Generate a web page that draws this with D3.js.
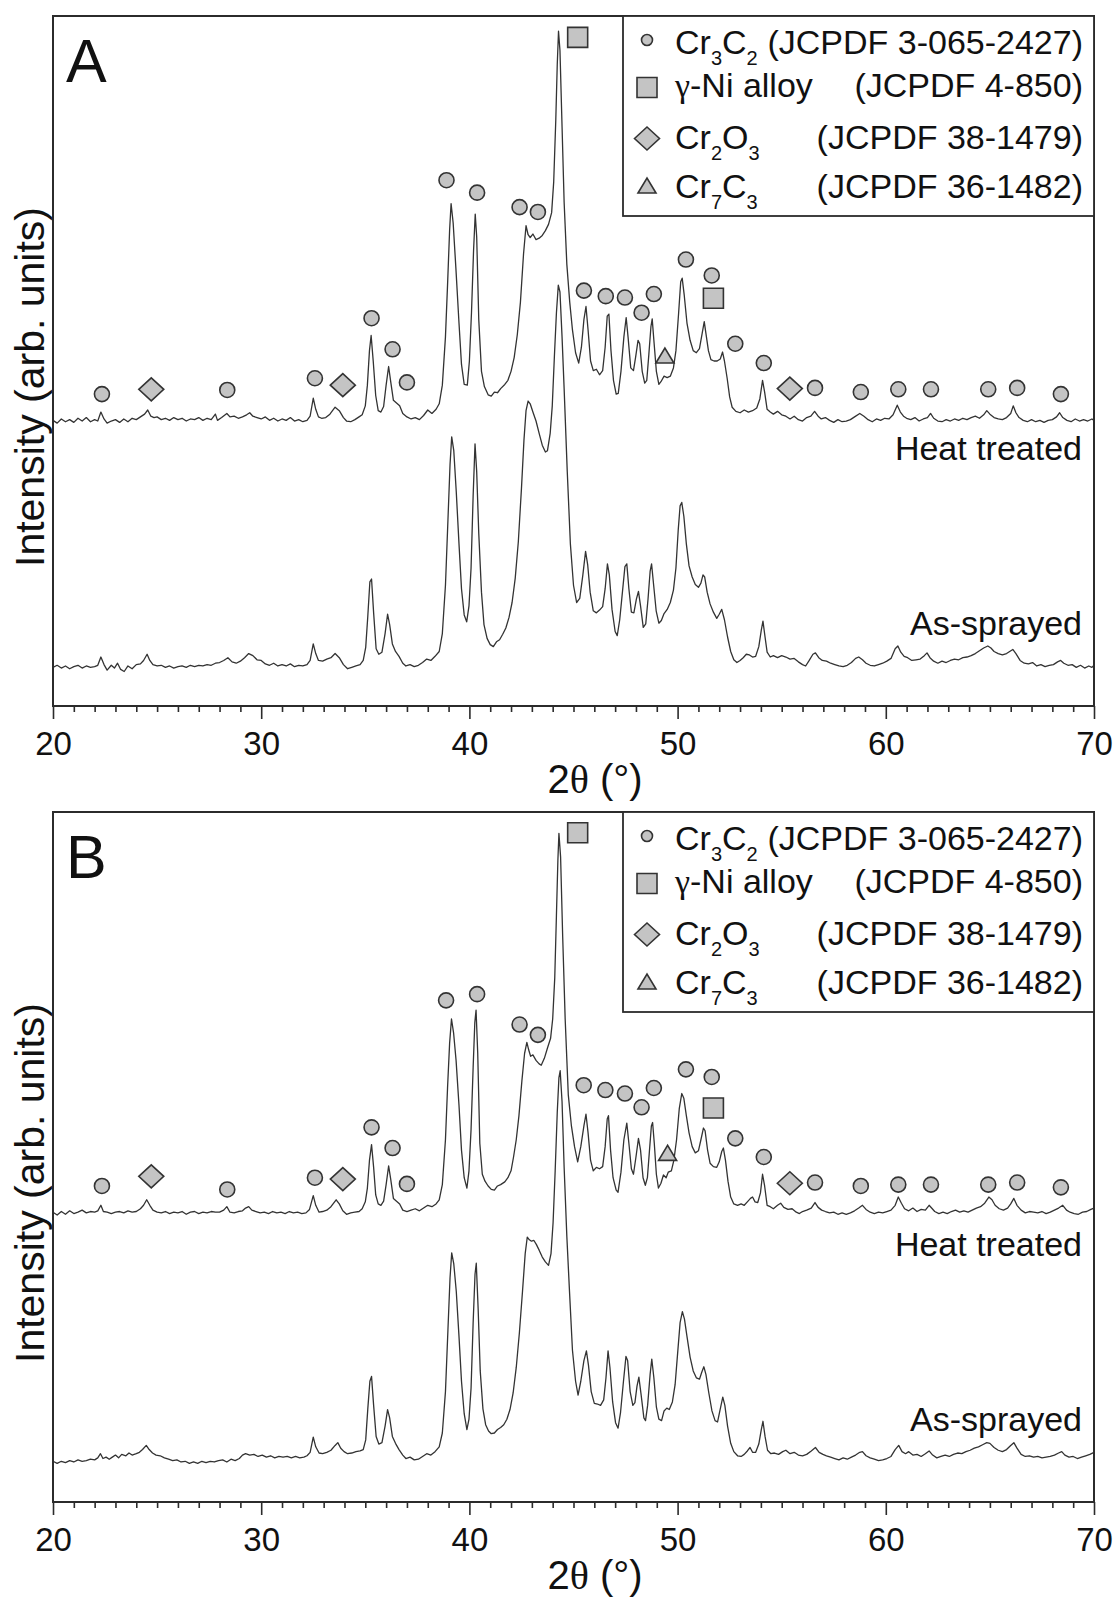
<!DOCTYPE html>
<html>
<head>
<meta charset="utf-8">
<script src="https://cdn.jsdelivr.net/npm/d3@7"></script>
<style>
  body { margin: 0; background: #fff; }
  text { font-family: "Liberation Sans", Arial, sans-serif; fill: #111; }
</style>
</head>
<body>
<svg id="chart"></svg>
<script>
// ---------- data ----------
const majorTicks = [20, 30, 40, 50, 60, 70];
const phaseNames = ["Cr3C2", "γ-Ni alloy", "Cr2O3", "Cr7C3"];
const phaseRefs = ["(JCPDF 3-065-2427)", "(JCPDF 4-850)", "(JCPDF 38-1479)", "(JCPDF 36-1482)"];
const phaseShapes = ["circle", "square", "diamond", "triangle"];
const traceLabels = ["Heat treated", "As-sprayed"];
const panelLabels = ["A", "B"];

// [2theta, intensity], intensity in % of the frame height
const heatTreatedA = [
  [20.0,41.4],[20.2,41.0],[20.4,41.6],[20.6,41.2],[20.8,41.5],[21.0,41.1],[21.2,41.7],[21.4,41.3],[21.6,41.8],[21.8,41.2],
  [22.0,41.5],[22.15,41.3],[22.3,42.6],[22.45,41.6],[22.6,41.0],[22.8,41.3],[23.0,41.5],[23.2,41.1],[23.4,41.6],[23.6,41.2],
  [23.8,41.7],[24.0,41.5],[24.2,41.9],[24.4,42.3],[24.55,42.9],[24.7,42.0],[24.85,41.8],[25.0,41.9],[25.2,41.5],[25.4,41.7],
  [25.6,41.4],[25.8,41.8],[26.0,41.5],[26.2,41.7],[26.4,41.3],[26.6,41.6],[26.8,41.5],[27.0,41.8],[27.2,41.4],[27.4,41.7],
  [27.6,41.5],[27.8,42.3],[27.9,41.4],[28.1,41.8],[28.35,42.4],[28.5,41.9],[28.7,42.0],[28.9,41.7],[29.1,41.9],[29.3,42.2],
  [29.45,42.5],[29.6,42.0],[29.8,41.8],[30.0,41.6],[30.2,41.9],[30.4,41.4],[30.6,41.7],[30.8,41.3],[31.0,41.6],[31.2,41.4],
  [31.4,41.8],[31.6,41.3],[31.8,41.5],[32.0,41.2],[32.2,41.4],[32.35,42.0],[32.5,44.6],[32.62,43.0],[32.75,41.9],[32.9,41.7],
  [33.1,41.8],[33.3,42.3],[33.55,43.3],[33.75,42.8],[33.95,41.8],[34.1,41.3],[34.3,41.2],[34.5,41.5],[34.7,41.9],[34.85,42.2],
  [35.0,43.5],[35.1,46.5],[35.2,51.5],[35.28,53.7],[35.38,50.0],[35.5,45.0],[35.62,42.8],[35.75,42.6],[35.88,43.4],[36.0,46.5],
  [36.12,49.2],[36.22,47.0],[36.35,44.3],[36.5,43.9],[36.65,43.5],[36.8,42.4],[37.0,41.9],[37.2,41.6],[37.4,41.8],[37.6,41.5],
  [37.8,42.1],[38.0,42.9],[38.2,42.4],[38.4,43.0],[38.55,43.8],[38.7,46.5],[38.85,53.5],[38.95,61.0],[39.05,69.0],[39.12,72.8],
  [39.22,70.0],[39.35,63.5],[39.5,55.5],[39.62,49.5],[39.75,46.6],[39.9,46.5],[40.0,50.0],[40.1,57.0],[40.2,66.0],[40.28,71.3],
  [40.35,68.0],[40.45,56.0],[40.58,48.5],[40.72,46.3],[40.9,45.1],[41.05,44.9],[41.2,45.5],[41.35,45.4],[41.5,46.0],[41.7,46.6],
  [41.85,47.2],[42.0,48.5],[42.15,50.5],[42.3,53.8],[42.45,58.5],[42.6,65.5],[42.72,69.6],[42.82,68.3],[42.92,67.9],[43.05,68.4],
  [43.2,67.6],[43.35,67.8],[43.5,68.2],[43.65,68.9],[43.8,69.8],[43.95,71.5],[44.05,76.0],[44.15,85.0],[44.22,93.0],[44.28,97.8],
  [44.35,95.0],[44.45,84.0],[44.55,73.0],[44.68,64.0],[44.82,58.5],[44.95,54.5],[45.1,51.2],[45.25,49.7],[45.38,52.0],[45.5,56.0],
  [45.6,57.9],[45.7,54.5],[45.82,50.0],[45.95,48.6],[46.1,48.8],[46.25,48.0],[46.4,48.6],[46.52,52.0],[46.62,56.5],[46.7,56.8],
  [46.8,51.5],[46.92,47.2],[47.05,45.2],[47.15,45.3],[47.28,48.5],[47.42,53.5],[47.53,56.3],[47.62,53.5],[47.75,49.0],[47.88,48.6],
  [47.98,50.5],[48.1,53.0],[48.18,52.5],[48.3,48.5],[48.42,46.8],[48.52,47.2],[48.62,51.0],[48.72,55.0],[48.78,56.1],[48.86,53.0],
  [48.98,48.5],[49.1,46.6],[49.2,47.0],[49.35,47.8],[49.5,47.6],[49.65,47.8],[49.8,49.0],[49.92,51.5],[50.05,57.0],[50.15,61.5],
  [50.22,62.0],[50.32,59.5],[50.45,55.5],[50.6,53.0],[50.75,51.5],[50.9,51.2],[51.05,51.8],[51.18,54.0],[51.28,55.7],[51.36,54.0],
  [51.48,51.5],[51.6,50.2],[51.75,50.0],[51.9,50.0],[52.05,50.3],[52.16,51.3],[52.25,50.0],[52.38,47.5],[52.5,44.8],[52.62,43.3],
  [52.8,42.7],[53.0,42.5],[53.2,42.9],[53.4,42.6],[53.6,42.8],[53.8,43.2],[53.95,44.5],[54.08,47.2],[54.18,45.5],[54.3,43.0],
  [54.45,42.6],[54.6,42.3],[54.8,42.7],[55.0,42.2],[55.2,42.0],[55.4,41.6],[55.6,42.0],[55.8,41.5],[56.0,41.3],[56.2,41.8],
  [56.4,42.0],[56.58,42.7],[56.75,42.0],[56.9,41.6],[57.1,41.8],[57.3,41.4],[57.5,41.1],[57.7,41.5],[57.9,41.2],[58.1,41.3],
  [58.3,41.5],[58.5,41.9],[58.75,42.4],[58.95,42.0],[59.15,41.5],[59.35,41.2],[59.55,41.6],[59.75,41.4],[59.95,41.7],[60.15,41.6],
  [60.35,42.2],[60.55,43.6],[60.7,42.6],[60.85,42.0],[61.0,41.7],[61.2,41.5],[61.4,41.8],[61.6,41.3],[61.8,41.6],[62.0,41.8],
  [62.15,42.4],[62.3,41.7],[62.5,41.3],[62.7,41.2],[62.9,41.5],[63.1,41.3],[63.3,41.6],[63.5,41.4],[63.7,41.7],[63.9,41.5],
  [64.1,41.8],[64.3,42.0],[64.5,41.7],[64.7,42.2],[64.85,42.8],[65.0,42.3],[65.2,41.8],[65.4,41.6],[65.6,41.5],[65.8,41.8],
  [66.0,42.4],[66.12,43.5],[66.25,42.5],[66.4,41.8],[66.6,41.4],[66.8,41.2],[67.0,41.5],[67.2,41.2],[67.4,41.4],[67.6,41.1],
  [67.8,41.4],[68.0,41.5],[68.2,41.9],[68.35,42.5],[68.5,41.8],[68.7,41.4],[68.9,41.2],[69.1,41.6],[69.3,41.3],[69.5,41.5],
  [69.7,41.3],[69.9,41.6],[70.0,41.4]
];

const asSprayedA = [
  [20.0,5.6],[20.2,5.9],[20.4,5.5],[20.6,5.8],[20.8,5.4],[21.0,5.7],[21.2,5.9],[21.4,5.5],[21.6,5.8],[21.8,5.6],
  [22.0,5.7],[22.15,5.9],[22.3,7.1],[22.45,6.0],[22.6,5.2],[22.8,5.9],[22.95,5.5],[23.1,6.2],[23.25,5.3],[23.42,5.0],
  [23.6,5.8],[23.8,5.4],[24.0,6.0],[24.2,6.1],[24.35,6.6],[24.52,7.5],[24.65,6.6],[24.8,6.0],[25.0,5.8],[25.2,5.9],
  [25.4,5.6],[25.6,5.8],[25.8,5.5],[26.0,5.7],[26.2,5.8],[26.4,5.6],[26.6,5.9],[26.8,5.7],[27.0,5.9],[27.2,5.8],
  [27.4,6.0],[27.6,5.9],[27.8,6.2],[28.0,6.3],[28.2,6.6],[28.4,7.0],[28.6,6.4],[28.8,6.2],[29.0,6.5],[29.2,7.0],
  [29.4,7.6],[29.6,7.3],[29.8,6.7],[30.0,6.6],[30.2,6.1],[30.4,5.9],[30.6,6.2],[30.8,5.8],[31.0,6.0],[31.2,5.8],
  [31.4,6.1],[31.6,5.7],[31.8,5.9],[32.0,5.8],[32.2,6.0],[32.35,6.6],[32.5,9.0],[32.62,7.6],[32.75,6.6],[32.95,6.5],
  [33.15,6.8],[33.35,7.0],[33.55,7.6],[33.75,7.0],[33.95,6.0],[34.15,5.4],[34.35,5.6],[34.55,5.8],[34.75,6.0],[34.9,6.6],
  [35.02,8.5],[35.12,13.0],[35.22,18.0],[35.3,18.4],[35.4,13.5],[35.52,8.3],[35.65,7.5],[35.8,7.8],[35.95,10.5],[36.07,13.3],
  [36.17,11.8],[36.3,9.0],[36.45,7.9],[36.62,7.2],[36.8,6.2],[36.95,5.8],[37.15,6.0],[37.35,5.7],[37.55,5.9],[37.75,6.3],
  [37.95,6.8],[38.15,6.6],[38.35,7.2],[38.55,7.9],[38.7,10.5],[38.85,17.5],[38.97,27.0],[39.07,35.0],[39.15,39.0],[39.25,37.0],
  [39.37,31.0],[39.5,23.5],[39.62,17.0],[39.75,13.2],[39.87,12.2],[39.98,14.5],[40.08,20.0],[40.18,30.5],[40.27,38.0],[40.35,34.0],
  [40.45,25.0],[40.58,16.5],[40.7,11.8],[40.85,9.8],[41.0,8.9],[41.15,8.6],[41.3,9.3],[41.45,9.6],[41.6,10.4],[41.75,11.3],
  [41.9,12.8],[42.05,15.0],[42.2,18.5],[42.35,23.8],[42.5,31.5],[42.62,38.5],[42.72,42.8],[42.82,44.2],[42.92,43.8],[43.05,42.6],
  [43.2,41.3],[43.35,39.5],[43.5,37.8],[43.65,36.8],[43.75,37.0],[43.88,39.5],[43.98,43.5],[44.08,50.5],[44.18,57.0],[44.27,61.0],
  [44.35,60.0],[44.45,53.5],[44.55,46.0],[44.7,34.0],[44.85,23.5],[45.0,17.5],[45.15,15.0],[45.3,15.6],[45.45,19.0],[45.58,22.4],
  [45.68,20.5],[45.8,16.5],[45.95,13.8],[46.1,13.5],[46.25,13.9],[46.4,14.4],[46.52,17.0],[46.63,20.6],[46.72,19.0],[46.85,14.0],
  [47.0,10.8],[47.1,10.2],[47.22,12.5],[47.35,16.5],[47.47,20.2],[47.56,20.6],[47.66,17.0],[47.78,13.6],[47.9,13.5],[48.02,15.5],
  [48.12,16.6],[48.22,14.5],[48.35,11.4],[48.47,11.9],[48.58,15.5],[48.68,19.5],[48.75,20.6],[48.85,17.5],[48.97,13.8],[49.1,12.0],
  [49.22,12.4],[49.35,13.4],[49.5,14.0],[49.65,15.0],[49.8,16.8],[49.92,20.0],[50.03,25.5],[50.12,29.0],[50.2,29.5],[50.3,27.5],
  [50.42,23.5],[50.55,20.3],[50.7,18.7],[50.85,17.6],[51.0,17.2],[51.12,17.8],[51.22,19.0],[51.3,18.7],[51.42,16.5],[51.56,14.8],
  [51.72,13.6],[51.88,12.7],[52.0,13.3],[52.12,14.0],[52.25,12.5],[52.4,10.0],[52.55,7.9],[52.7,6.7],[52.85,6.3],[53.0,6.6],
  [53.15,7.0],[53.3,7.5],[53.45,7.4],[53.6,7.1],[53.75,7.2],[53.9,8.6],[54.02,11.0],[54.1,12.3],[54.2,10.0],[54.3,7.8],
  [54.45,7.1],[54.6,7.3],[54.8,7.0],[55.0,7.3],[55.2,7.1],[55.4,6.8],[55.6,6.9],[55.8,6.4],[56.0,6.0],[56.15,5.8],
  [56.3,6.5],[56.5,7.5],[56.62,7.7],[56.78,7.0],[56.95,6.6],[57.15,6.5],[57.35,6.2],[57.55,6.0],[57.75,5.8],[57.95,5.7],
  [58.15,5.9],[58.35,6.3],[58.55,6.9],[58.7,7.1],[58.88,6.7],[59.05,6.2],[59.25,5.9],[59.45,5.8],[59.65,6.0],[59.85,6.2],
  [60.05,6.5],[60.25,6.9],[60.45,8.3],[60.58,8.7],[60.72,7.8],[60.88,7.2],[61.05,7.0],[61.25,6.6],[61.45,6.7],[61.65,6.8],
  [61.85,7.3],[61.98,7.7],[62.12,7.0],[62.3,6.5],[62.5,6.2],[62.7,6.5],[62.9,6.3],[63.1,6.6],[63.3,6.8],[63.5,6.7],
  [63.7,7.0],[63.9,7.1],[64.1,7.3],[64.3,7.6],[64.5,8.0],[64.7,8.4],[64.9,8.7],[65.05,8.4],[65.2,7.9],[65.4,7.6],
  [65.6,7.4],[65.8,7.6],[65.95,7.9],[66.1,8.2],[66.25,7.6],[66.45,6.6],[66.65,6.2],[66.85,6.1],[67.05,6.3],[67.25,5.8],
  [67.45,6.0],[67.65,5.7],[67.85,5.9],[68.05,6.0],[68.25,6.4],[68.4,6.6],[68.55,6.2],[68.75,5.9],[68.95,6.0],[69.15,5.6],
  [69.35,5.9],[69.55,5.5],[69.75,5.8],[69.9,5.6],[70.0,5.9]
];

const heatTreatedB = [
  [20.0,42.0],[20.2,41.6],[20.4,42.1],[20.6,41.7],[20.8,42.2],[21.0,41.8],[21.2,42.0],[21.4,42.3],[21.6,41.9],[21.8,42.1],
  [22.0,42.0],[22.15,42.2],[22.3,43.0],[22.42,42.1],[22.6,42.0],[22.8,41.8],[23.0,42.0],[23.2,42.1],[23.4,41.9],[23.6,42.2],
  [23.8,42.0],[24.0,42.1],[24.2,42.5],[24.35,43.0],[24.5,43.8],[24.65,43.0],[24.8,42.3],[25.0,42.0],[25.2,41.9],[25.4,42.1],
  [25.6,41.8],[25.8,42.0],[26.0,41.9],[26.2,42.1],[26.4,41.7],[26.6,42.0],[26.8,42.1],[27.0,41.8],[27.2,42.0],[27.4,41.9],
  [27.6,42.1],[27.8,42.0],[28.0,42.0],[28.2,42.3],[28.35,42.8],[28.5,42.0],[28.7,41.9],[28.9,42.1],[29.1,42.2],[29.25,42.6],
  [29.4,42.8],[29.55,42.3],[29.75,42.1],[29.95,41.9],[30.15,42.0],[30.35,41.8],[30.55,42.1],[30.75,41.9],[30.95,42.0],[31.15,41.8],
  [31.35,42.1],[31.55,41.9],[31.75,42.0],[31.95,41.8],[32.15,41.9],[32.32,42.4],[32.5,44.4],[32.62,43.0],[32.78,42.0],[32.95,42.1],
  [33.15,42.3],[33.35,42.8],[33.6,43.8],[33.75,43.2],[33.92,42.2],[34.1,41.7],[34.3,41.9],[34.5,42.0],[34.7,42.1],[34.85,42.5],
  [35.0,43.5],[35.1,45.5],[35.2,49.5],[35.3,51.8],[35.4,48.5],[35.5,44.5],[35.62,43.2],[35.75,43.0],[35.88,43.6],[36.0,46.0],
  [36.12,48.7],[36.22,46.8],[36.35,44.0],[36.5,43.6],[36.65,43.2],[36.8,42.3],[37.0,42.1],[37.2,42.3],[37.4,42.5],[37.6,42.2],
  [37.8,42.6],[38.0,43.0],[38.2,42.8],[38.4,43.2],[38.55,43.8],[38.7,46.0],[38.85,52.5],[38.95,60.0],[39.05,66.5],[39.14,70.0],
  [39.24,68.0],[39.36,64.0],[39.5,57.5],[39.62,51.0],[39.75,47.0],[39.88,45.5],[39.98,48.0],[40.08,54.0],[40.18,63.0],[40.26,69.5],
  [40.32,71.3],[40.4,65.0],[40.5,52.0],[40.62,47.5],[40.75,46.5],[40.9,45.8],[41.05,45.3],[41.2,45.2],[41.35,45.8],[41.5,46.0],
  [41.7,46.4],[41.85,47.0],[42.0,48.0],[42.12,50.0],[42.25,52.5],[42.38,56.0],[42.52,61.0],[42.65,65.0],[42.76,66.6],[42.85,65.5],
  [42.94,64.6],[43.05,64.8],[43.2,64.0],[43.35,63.5],[43.45,63.3],[43.6,64.3],[43.75,65.8],[43.9,67.2],[44.0,70.0],[44.1,76.0],
  [44.18,85.0],[44.25,93.0],[44.3,96.9],[44.38,93.5],[44.48,82.0],[44.6,70.0],[44.75,59.0],[44.9,54.5],[45.05,51.5],[45.2,49.3],
  [45.35,51.5],[45.5,54.5],[45.6,56.2],[45.7,53.5],[45.82,49.5],[45.95,48.0],[46.1,48.5],[46.25,48.3],[46.4,48.6],[46.52,51.5],
  [46.62,55.5],[46.68,56.0],[46.78,51.0],[46.9,47.0],[47.05,45.2],[47.14,44.9],[47.28,47.8],[47.42,52.5],[47.56,54.9],[47.66,52.0],
  [47.78,48.3],[47.88,47.5],[48.0,50.0],[48.12,52.7],[48.22,51.0],[48.34,47.0],[48.45,45.9],[48.55,47.0],[48.65,51.0],[48.74,54.5],
  [48.8,55.0],[48.88,52.0],[48.98,47.5],[49.08,45.5],[49.2,46.2],[49.32,47.4],[49.45,47.0],[49.55,47.8],[49.7,48.0],[49.82,49.5],
  [49.95,52.5],[50.08,57.0],[50.2,59.2],[50.3,58.5],[50.42,56.0],[50.55,53.5],[50.7,51.5],[50.85,50.6],[51.0,50.9],[51.12,52.5],
  [51.24,54.2],[51.32,53.8],[51.44,51.0],[51.56,49.1],[51.72,48.6],[51.88,48.5],[52.0,49.3],[52.12,50.8],[52.2,51.3],[52.3,49.5],
  [52.42,46.5],[52.55,44.2],[52.7,43.2],[52.88,43.0],[53.05,43.2],[53.2,43.0],[53.35,43.5],[53.5,44.0],[53.6,44.2],[53.72,43.5],
  [53.85,43.4],[53.98,44.8],[54.08,47.5],[54.18,45.8],[54.3,43.0],[54.45,42.8],[54.6,42.5],[54.8,43.0],[54.95,43.3],[55.1,42.7],
  [55.3,42.4],[55.5,42.5],[55.7,42.0],[55.85,41.8],[56.0,42.1],[56.2,42.3],[56.42,42.6],[56.6,43.4],[56.75,42.7],[56.92,42.3],
  [57.1,42.1],[57.3,41.9],[57.5,42.0],[57.7,41.7],[57.9,41.9],[58.1,41.7],[58.3,41.9],[58.5,42.2],[58.7,42.6],[58.88,43.0],
  [59.05,42.4],[59.25,42.0],[59.45,41.8],[59.65,42.0],[59.85,41.9],[60.05,42.1],[60.25,42.3],[60.45,43.0],[60.6,44.2],[60.75,43.3],
  [60.9,42.5],[61.1,42.2],[61.3,42.6],[61.5,42.1],[61.7,42.4],[61.9,42.3],[62.08,43.0],[62.2,42.6],[62.35,42.1],[62.55,41.8],
  [62.75,42.0],[62.95,41.8],[63.15,42.1],[63.35,42.3],[63.55,42.0],[63.75,42.2],[63.95,42.0],[64.15,42.3],[64.35,42.6],[64.55,42.8],
  [64.75,43.3],[64.95,44.2],[65.1,43.8],[65.25,43.0],[65.45,42.5],[65.65,42.3],[65.85,42.6],[66.0,43.2],[66.15,44.0],[66.3,43.0],
  [66.5,42.3],[66.7,41.9],[66.9,42.1],[67.1,42.0],[67.3,41.9],[67.5,42.1],[67.7,41.8],[67.9,42.0],[68.1,42.3],[68.3,42.6],
  [68.5,43.0],[68.68,42.3],[68.85,42.0],[69.05,41.8],[69.25,41.7],[69.45,42.0],[69.65,42.1],[69.85,42.4],[70.0,42.6]
];

const asSprayedB = [
  [20.0,5.9],[20.2,5.6],[20.4,5.9],[20.6,5.7],[20.8,6.0],[21.0,5.8],[21.2,6.1],[21.4,5.9],[21.6,6.0],[21.8,6.2],
  [22.0,6.1],[22.15,6.4],[22.28,7.0],[22.4,6.3],[22.55,6.5],[22.7,6.2],[22.85,6.5],[23.0,6.8],[23.15,6.4],[23.3,6.9],
  [23.5,6.7],[23.65,7.1],[23.8,6.8],[24.0,7.0],[24.15,7.2],[24.3,7.6],[24.48,8.2],[24.62,7.6],[24.78,7.1],[24.95,6.8],
  [25.15,6.7],[25.35,6.4],[25.55,6.2],[25.75,6.0],[25.95,6.1],[26.15,5.8],[26.35,5.9],[26.55,5.6],[26.75,5.8],[26.95,5.6],
  [27.15,5.9],[27.35,5.7],[27.55,5.9],[27.75,5.8],[27.95,6.0],[28.15,6.1],[28.35,5.8],[28.55,6.2],[28.75,6.0],[28.95,6.3],
  [29.1,6.8],[29.25,7.0],[29.45,6.8],[29.65,6.9],[29.85,6.6],[30.05,6.8],[30.25,6.5],[30.45,6.7],[30.65,6.4],[30.85,6.6],
  [31.05,6.5],[31.25,6.6],[31.45,6.4],[31.65,6.6],[31.85,6.4],[32.05,6.5],[32.2,6.7],[32.35,7.2],[32.5,9.4],[32.62,8.0],
  [32.78,7.1],[32.95,7.0],[33.15,7.2],[33.35,7.5],[33.55,8.2],[33.68,8.6],[33.82,7.8],[33.98,7.3],[34.15,7.0],[34.35,7.1],
  [34.55,7.3],[34.75,7.4],[34.9,7.6],[35.02,9.0],[35.12,13.5],[35.22,17.5],[35.3,18.2],[35.4,14.0],[35.52,9.5],[35.65,8.4],
  [35.8,8.6],[35.95,11.0],[36.07,13.4],[36.17,12.2],[36.3,9.5],[36.45,8.5],[36.62,7.6],[36.8,6.8],[36.95,6.3],[37.15,6.5],
  [37.35,6.1],[37.55,6.2],[37.75,6.6],[37.95,7.0],[38.15,6.8],[38.35,7.3],[38.55,8.0],[38.7,10.0],[38.85,16.0],[38.97,25.0],
  [39.07,32.5],[39.15,36.1],[39.25,34.5],[39.37,30.5],[39.5,24.0],[39.62,17.5],[39.75,12.8],[39.88,10.5],[39.98,12.0],[40.08,16.5],
  [40.18,26.0],[40.27,33.0],[40.33,34.6],[40.42,28.0],[40.52,19.0],[40.65,13.5],[40.78,11.2],[40.92,10.3],[41.05,9.9],[41.2,10.0],
  [41.35,10.5],[41.5,10.8],[41.65,11.2],[41.8,12.0],[41.95,13.4],[42.1,15.8],[42.25,19.5],[42.4,24.5],[42.55,30.5],[42.68,36.0],
  [42.78,38.4],[42.88,38.0],[42.98,37.8],[43.1,37.9],[43.22,37.3],[43.35,36.5],[43.5,35.5],[43.65,34.8],[43.8,34.3],[43.92,36.0],
  [44.02,40.5],[44.12,48.0],[44.22,56.5],[44.3,61.5],[44.36,62.5],[44.45,58.0],[44.55,48.5],[44.68,38.5],[44.8,31.0],[44.95,22.0],
  [45.1,17.5],[45.22,15.5],[45.35,17.5],[45.5,20.5],[45.62,21.9],[45.72,19.8],[45.85,16.0],[46.0,14.3],[46.15,14.2],[46.3,14.0],
  [46.45,14.8],[46.56,18.0],[46.66,21.9],[46.75,19.5],[46.88,14.5],[47.02,11.5],[47.14,10.7],[47.26,13.0],[47.4,17.5],[47.52,21.1],
  [47.6,20.5],[47.72,16.0],[47.85,14.0],[47.95,14.4],[48.05,16.8],[48.14,18.1],[48.25,15.5],[48.38,12.2],[48.46,11.8],[48.56,14.0],
  [48.68,18.5],[48.76,20.7],[48.86,18.0],[48.98,13.8],[49.1,12.0],[49.23,11.8],[49.35,13.2],[49.48,13.6],[49.6,13.4],[49.75,14.5],
  [49.88,17.0],[50.0,21.5],[50.12,26.0],[50.23,27.6],[50.33,26.5],[50.45,24.0],[50.6,21.0],[50.75,19.0],[50.9,18.0],[51.05,17.8],
  [51.16,18.8],[51.26,19.6],[51.36,18.5],[51.5,15.8],[51.65,13.2],[51.8,11.8],[51.92,11.6],[52.05,13.5],[52.17,15.2],[52.27,14.0],
  [52.4,11.0],[52.55,8.5],[52.7,7.3],[52.88,6.7],[53.05,6.6],[53.2,6.9],[53.35,7.4],[53.48,7.9],[53.6,7.2],[53.75,7.2],
  [53.9,8.4],[54.02,10.5],[54.1,11.7],[54.2,9.5],[54.32,7.5],[54.48,7.0],[54.65,7.1],[54.85,6.9],[55.05,7.3],[55.2,7.5],
  [55.4,7.0],[55.6,7.2],[55.8,6.8],[56.0,6.7],[56.2,6.9],[56.42,7.4],[56.62,7.9],[56.8,7.2],[56.98,6.9],[57.15,6.7],
  [57.35,6.5],[57.55,6.3],[57.75,6.1],[57.95,6.4],[58.15,6.2],[58.35,6.5],[58.55,6.8],[58.75,7.2],[58.88,7.3],[59.05,6.7],
  [59.25,6.4],[59.45,6.2],[59.65,6.0],[59.85,6.1],[60.05,6.3],[60.25,6.6],[60.45,7.6],[60.62,8.2],[60.78,7.3],[60.95,7.0],
  [61.1,7.3],[61.3,6.8],[61.5,6.9],[61.7,6.6],[61.9,7.0],[62.08,7.4],[62.25,6.8],[62.45,6.4],[62.65,6.6],[62.85,6.8],
  [63.05,6.6],[63.25,6.9],[63.45,7.1],[63.65,7.0],[63.85,7.3],[64.05,7.5],[64.25,7.8],[64.45,8.0],[64.65,8.3],[64.85,8.6],
  [65.0,8.5],[65.2,7.9],[65.4,7.5],[65.6,7.3],[65.8,7.6],[66.0,8.2],[66.15,8.6],[66.3,7.8],[66.5,6.9],[66.7,6.6],
  [66.9,6.7],[67.1,6.5],[67.3,6.6],[67.5,6.4],[67.7,6.5],[67.9,6.6],[68.1,6.8],[68.3,7.1],[68.45,7.3],[68.6,6.8],
  [68.8,6.5],[69.0,6.6],[69.2,6.3],[69.4,6.5],[69.6,6.7],[69.8,6.9],[70.0,7.2]
];

// phase markers [2theta, intensity]
const cr3c2A = [[22.35,45.2],[28.37,45.8],[32.58,47.5],[35.3,56.2],[36.31,51.7],[37.0,46.9],[38.9,76.2],[40.37,74.4],
  [42.41,72.3],[43.29,71.6],[45.5,60.2],[46.55,59.4],[47.47,59.2],[48.27,57.0],[48.86,59.7],[50.4,64.7],[51.64,62.4],
  [52.77,52.5],[54.14,49.7],[56.6,46.1],[58.8,45.5],[60.6,45.9],[62.17,45.9],[64.92,45.9],[66.31,46.1],[68.41,45.2]];
const nickelA = [[45.2,96.9],[51.72,59.1]];
const cr2o3A = [[24.72,45.9],[33.92,46.5],[55.39,46.0]];
const cr7c3A = [[49.39,50.8]];

const cr3c2B = [[22.35,45.8],[28.37,45.3],[32.58,47.0],[35.3,54.3],[36.31,51.3],[37.0,46.1],[38.88,72.7],[40.37,73.6],
  [42.41,69.2],[43.29,67.7],[45.49,60.4],[46.53,59.7],[47.47,59.2],[48.27,57.2],[48.86,60.0],[50.4,62.7],[51.64,61.6],
  [52.77,52.7],[54.14,50.0],[56.6,46.3],[58.8,45.8],[60.6,46.0],[62.17,46.0],[64.92,46.0],[66.31,46.3],[68.41,45.6]];
const nickelB = [[45.2,97.0],[51.72,57.1]];
const cr2o3B = [[24.72,47.2],[33.92,46.8],[55.39,46.2]];
const cr7c3B = [[49.52,50.6]];

// ---------- layout ----------
const width = 1117;
const height = 1599;
const left = 53, right = 1094, plotH = 690;
const panelTops = [16, 812];
const ink = "#2b2b2b";
const markFill = "#c4c4c4";

const panels = [
  { label: panelLabels[0], top: panelTops[0], traces: [heatTreatedA, asSprayedA], marks: [cr3c2A, nickelA, cr2o3A, cr7c3A] },
  { label: panelLabels[1], top: panelTops[1], traces: [heatTreatedB, asSprayedB], marks: [cr3c2B, nickelB, cr2o3B, cr7c3B] }
];

const svg = d3.select("#chart")
    .attr("width", width)
    .attr("height", height)
    .style("display", "block");

svg.append("rect").attr("width", width).attr("height", height).attr("fill", "#fff");

const x = d3.scaleLinear().domain([20, 70]).range([left, right]);

// draw one phase symbol
function drawMarker(g, shape, cx, cy, small) {
  const m = g.append(shape === "circle" ? "circle" : "path")
      .attr("fill", markFill)
      .attr("stroke", "#333")
      .attr("stroke-width", 1.6);
  if (shape === "circle") {
    m.attr("cx", cx).attr("cy", cy).attr("r", small ? 5.5 : 7.5);
  } else if (shape === "square") {
    const h = 10;
    m.attr("d", `M${cx - h},${cy - h}H${cx + h}V${cy + h}H${cx - h}Z`);
  } else if (shape === "diamond") {
    const w = 12.5, h = 11.5;
    m.attr("d", `M${cx - w},${cy}L${cx},${cy - h}L${cx + w},${cy}L${cx},${cy + h}Z`);
  } else {
    const w = 9, h = 15;
    m.attr("d", `M${cx - w},${cy + h / 2}L${cx},${cy - h / 2}L${cx + w},${cy + h / 2}Z`);
  }
}

// chemical formula with subscript digits, greek letters in a serif face
function writeFormula(text, name) {
  let low = false;
  name.match(/\d+|γ|[^\dγ]+/g).forEach(part => {
    const t = text.append("tspan");
    if (/^\d+$/.test(part)) {
      t.attr("font-size", 20).attr("dy", low ? 0 : 11);
      low = true;
    } else {
      t.attr("dy", low ? -11 : 0);
      low = false;
      if (part === "γ") t.attr("font-family", "'Liberation Serif', serif");
    }
    t.text(part);
  });
}

panels.forEach(p => {
  const g = svg.append("g");
  const bottom = p.top + plotH;

  const y = d3.scaleLinear().domain([0, 100]).range([bottom, p.top]);

  const line = d3.line()
      .x(d => x(d[0]))
      .y(d => y(d[1]));

  // diffraction patterns
  g.selectAll(".trace")
    .data(p.traces)
    .enter().append("path")
    .attr("class", "trace")
    .attr("d", line)
    .attr("fill", "none")
    .attr("stroke", "#333")
    .attr("stroke-width", 1.3)
    .attr("stroke-linejoin", "round");

  // minor and major ticks on the x axis
  const minor = d3.range(21, 70).filter(v => v % 10 !== 0);
  g.append("g")
    .attr("transform", `translate(0,${bottom})`)
    .call(d3.axisBottom(x).tickValues(minor).tickSize(6).tickFormat(""))
    .call(a => a.select(".domain").remove())
    .call(a => a.selectAll("line").attr("stroke", ink).attr("stroke-width", 1.6));

  g.append("g")
    .attr("transform", `translate(0,${bottom})`)
    .call(d3.axisBottom(x).tickValues(majorTicks).tickSize(13).tickPadding(13).tickFormat(d3.format("d")))
    .call(a => a.select(".domain").remove())
    .call(a => a.selectAll("line").attr("stroke", ink).attr("stroke-width", 1.6))
    .call(a => a.selectAll("text")
        .attr("font-size", 33)
        .attr("font-family", "'Liberation Sans', Arial, sans-serif")
        .attr("fill", "#111"));

  // frame
  g.append("rect")
    .attr("x", left)
    .attr("y", p.top)
    .attr("width", right - left)
    .attr("height", plotH)
    .attr("fill", "none")
    .attr("stroke", ink)
    .attr("stroke-width", 2);

  // phase markers
  p.marks.forEach((pts, i) => {
    pts.forEach(d => drawMarker(g, phaseShapes[i], x(d[0]), y(d[1]), false));
  });

  // trace labels
  g.selectAll(".tlabel")
    .data(traceLabels)
    .enter().append("text")
    .attr("class", "tlabel")
    .attr("x", 1082)
    .attr("y", (d, i) => p.top + (i === 0 ? 444 : 619))
    .attr("text-anchor", "end")
    .attr("font-size", 34)
    .text(d => d);

  // panel letter
  g.append("text")
    .attr("x", 66)
    .attr("y", p.top + 66)
    .attr("font-size", 61)
    .text(p.label);

  // legend
  const legend = g.append("g").attr("class", "legend");
  legend.append("rect")
    .attr("x", 623)
    .attr("y", p.top)
    .attr("width", right - 623)
    .attr("height", 200)
    .attr("fill", "#fff")
    .attr("stroke", ink)
    .attr("stroke-width", 1.8);

  const symY = [24, 71.5, 122.5, 169.5];
  const textY = [38, 81, 132.5, 181.5];
  phaseNames.forEach((name, i) => {
    drawMarker(legend, phaseShapes[i], 647, p.top + symY[i], true);
    const t = legend.append("text")
      .attr("x", 675)
      .attr("y", p.top + textY[i])
      .attr("font-size", 34);
    writeFormula(t, name);
    legend.append("text")
      .attr("x", 1083)
      .attr("y", p.top + textY[i])
      .attr("text-anchor", "end")
      .attr("font-size", 34)
      .text(phaseRefs[i]);
  });

  // x axis title
  const xt = g.append("text")
    .attr("x", 595)
    .attr("y", bottom + 87)
    .attr("text-anchor", "middle")
    .attr("font-size", 40);
  xt.append("tspan").text("2");
  xt.append("tspan").attr("font-family", "'Liberation Serif', serif").text("θ");
  xt.append("tspan").text(" (°)");

  // y axis title
  g.append("text")
    .attr("transform", `translate(44,${p.top + 371}) rotate(-90)`)
    .attr("text-anchor", "middle")
    .attr("font-size", 41)
    .text("Intensity (arb. units)");
});
</script>
</body>
</html>
